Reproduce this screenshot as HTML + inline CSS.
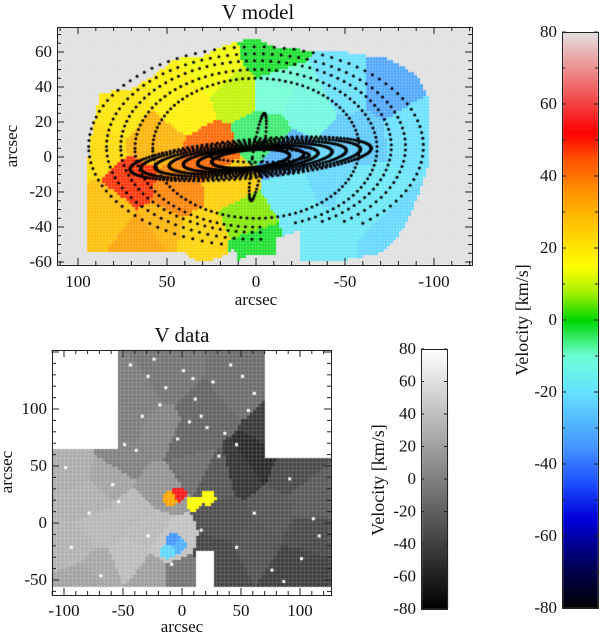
<!DOCTYPE html>
<html><head><meta charset="utf-8"><style>
html,body{margin:0;padding:0;background:#fff;}
#wrap{position:relative;width:600px;height:633px;overflow:hidden;}
canvas,svg{position:absolute;left:0;top:0;}
text{font-family:"Liberation Serif",serif;fill:#111;}
</style></head><body>
<div id="wrap">
<canvas id="cv" width="600" height="633"></canvas>
<svg id="sv" width="600" height="633"></svg>
</div>
<script>
// ---- data ----
const topSeedX=[88,82,70,62,58,45,42,30,25,20,10,5,-5,0,-10,-15,-30,-40,-30,-50,-60,-75,-90,-55,-20,75,55,15,-5,-85];
const topSeedY=[5,-30,-15,-45,10,-20,30,-45,0,50,40,-35,55,-50,40,0,30,-10,-45,40,-20,40,15,10,-20,25,-40,-15,10,-45];
const topSeedV=[22,28,48,33,30,38,18,24,42,14,10,6,-2,-2,-10,-30,-12,-22,-18,-20,-18,-32,-20,-25,-18,20,30,25,-5,-22];
const topMaskX=[88,80,72,60,45,30,20,10,0,-10,-20,-35,-50,-62,-75,-82,-92,-98,-98,-92,-86,-80,-70,-45,-25,-25,-12,-12,5,10,12,20,32,40,55,75,95,95,93];
const topMaskY=[36,38,38,45,56,58,63,66,68,63,62,60,60,58,56,52,45,30,0,-20,-35,-45,-55,-60,-60,-42,-46,-56,-56,-60,-52,-58,-60,-55,-55,-55,-55,-8,10];
const ringA=[58,68,76,84,94];
const ringB=[40,45,49,53,57];
const ringCy=[5,5,6,6,6];
const barA=[22,30,38,46,54,62,68];
const barB=[5,6,7,8,9,10,11];
const botSeedX=[-95,-80,-60,-40,-20,-90,-70,-45,-25,-10,-30,-50,-80,10,30,50,65,90,110,-40,-10,20,45,80,110,0,30,60,-20,5,40,75,100,-45,-70];
const botSeedY=[50,20,40,10,30,-20,-40,-30,-45,-20,-5,55,-50,50,40,45,55,45,20,110,130,100,120,80,-10,-45,-30,-15,80,70,0,10,-40,90,-5];
const botSeedV=[28,30,22,35,12,32,25,38,20,42,36,0,22,-12,-28,-48,-55,-35,-25,-3,-8,-18,-12,-45,-35,-8,-38,-30,2,-18,-32,-28,-42,-2,35];
const colSeedX=[-10,-3,10,22,-12,-3,-8];
const colSeedY=[22,25,17,22,-25,-20,-15];
const colSeedV=[32,55,15,15,-22,-30,-35];
const dotX=[-45,-30,-15,0,10,25,40,55,-35,-20,5,20,35,60,-50,-5,15,45,-25,30,-40,8,50,-100,-60,-80,-30,90,110,100,75,-95,-70,15,45,60,-10,85,115,-55];
const dotY=[140,130,120,135,110,125,140,100,95,105,90,85,80,115,70,75,95,70,145,60,65,128,130,50,35,10,-10,40,5,-30,-40,-20,-45,-5,-20,10,-35,-50,-10,20];
const cbTicks=[-80,-60,-40,-20,0,20,40,60,80];

// ---- scales ----
const TX=x=>57+(111.8-x)*1.78, TY=y=>157-y*1.75;
const BX=x=>182+x*1.18, BY=y=>523-y*1.14;
const stops=[[-80,[0,0,0]],[-68,[0,0,90]],[-55,[0,0,220]],[-45,[30,80,255]],[-35,[70,150,255]],[-20,[100,225,255]],[-10,[110,255,215]],[0,[0,215,0]],[8,[170,240,0]],[15,[255,255,0]],[25,[255,205,0]],[35,[255,150,0]],[45,[255,80,0]],[52,[255,0,0]],[62,[240,80,80]],[72,[235,160,160]],[80,[225,225,225]]];
function rainbow(v){v=Math.max(-80,Math.min(80,v));for(let i=1;i<stops.length;i++){if(v<=stops[i][0]){const a=stops[i-1],b=stops[i],t=(v-a[0])/(b[0]-a[0]);return `rgb(${a[1].map((c,k)=>Math.round(c+(b[1][k]-c)*t)).join(',')})`;}}return 'rgb(225,225,225)';}
function gray(v){const g=Math.round((Math.max(-80,Math.min(80,v))+80)/160*255);return `rgb(${g},${g},${g})`;}
function inPoly(x,y,px,py){let c=false;for(let i=0,j=px.length-1;i<px.length;j=i++){if(((py[i]>y)!=(py[j]>y))&&(x<(px[j]-px[i])*(y-py[i])/(py[j]-py[i])+px[i]))c=!c;}return c;}
function nearest(x,y,sx,sy){let b=0,bd=1e9;for(let i=0;i<sx.length;i++){const d=(x-sx[i])**2+(y-sy[i])**2;if(d<bd){bd=d;b=i;}}return [b,bd];}

const ctx=document.getElementById('cv').getContext('2d');
// top map
ctx.fillStyle='#e0e0e0';ctx.fillRect(57,27,415,238);
for(let px=57;px<472;px+=3)for(let py=27;py<265;py+=3){
  const x=111.8-(px+1.5-57)/1.78,y=(157-(py+1.5))/1.75;
  if(!inPoly(x,y,topMaskX,topMaskY))continue;
  const [i]=nearest(x,y,topSeedX,topSeedY);ctx.fillStyle=rainbow(topSeedV[i]);ctx.fillRect(px,py,3,3);}
ctx.strokeStyle='rgba(255,255,255,0.18)';ctx.lineWidth=1;
for(let px=57;px<472;px+=3){ctx.beginPath();ctx.moveTo(px+.5,27);ctx.lineTo(px+.5,265);ctx.stroke();}
for(let py=27;py<265;py+=3){ctx.beginPath();ctx.moveTo(57,py+.5);ctx.lineTo(472,py+.5);ctx.stroke();}
// dots / ellipses
ctx.fillStyle='#000';
function dot(x,y,r){ctx.beginPath();ctx.arc(x,y,r||1.5,0,7);ctx.fill();}
ringA.forEach((a,k)=>{for(let t=0;t<6.283;t+=0.06){const x=a*Math.cos(t),y=ringCy[k]+ringB[k]*Math.sin(t);if(y<-50||Math.abs(x)>96)continue;if(y<-38&&x<-5)continue;dot(TX(x),TY(y));}});
const ang=-0.09;
barA.forEach((a,k)=>{for(let t=0;t<6.283;t+=0.045){const ex=a*Math.cos(t),ey=barB[k]*Math.sin(t);const x=ex*Math.cos(ang)-ey*Math.sin(ang)+3,y=ex*Math.sin(ang)+ey*Math.cos(ang)-1;dot(TX(x),TY(y),1.6);}});
for(let t=0;t<6.283;t+=0.12){dot(TX(-1+3*Math.cos(t)+ -0.15*25*Math.sin(t)),TY(25*Math.sin(t)));}
for(let t=0;t<6.283;t+=0.12){dot(TX(-2+28*Math.cos(t)),TY(1+4*Math.sin(t)));}

// bottom map
const bmask=(x,y)=>{if(y>65)return x>-55&&x<70; if(y>58)return x>-110&&x<70; if(y<-57)return false; if(y<-55&&x<-55)return false; if(x>13&&x<27&&y<-25)return false; return true;};
for(let px=52;px<331;px+=3)for(let py=350;py<595;py+=3){
  const x=(px+1.5-182)/1.18,y=(523-(py+1.5))/1.14;
  if(!bmask(x,y))continue;
  const [c,cd]=nearest(x,y,colSeedX,colSeedY);
  if(cd<42){ctx.fillStyle=rainbow(colSeedV[c]);}else{const [i]=nearest(x,y,botSeedX,botSeedY);ctx.fillStyle=gray(botSeedV[i]);}
  ctx.fillRect(px,py,3,3);}
ctx.strokeStyle='rgba(255,255,255,0.15)';
for(let px=52;px<331;px+=4){ctx.beginPath();ctx.moveTo(px+.5,350);ctx.lineTo(px+.5,595);ctx.stroke();}
for(let py=350;py<595;py+=4){ctx.beginPath();ctx.moveTo(52,py+.5);ctx.lineTo(331,py+.5);ctx.stroke();}
ctx.fillStyle='#fff';
dotX.forEach((x,i)=>{const y=dotY[i];if(bmask(x,y))ctx.fillRect(BX(x),BY(y),3,3);});
// colorbars
for(let py=32;py<608;py++){const v=80-(py-32)/576*160;ctx.fillStyle=rainbow(v);ctx.fillRect(563,py,35,1);}
for(let py=349;py<609;py++){const v=80-(py-349)/260*160;ctx.fillStyle=gray(v);ctx.fillRect(422,py,26,1);}

// ---- SVG axes ----
const sv=document.getElementById('sv');const NS='http://www.w3.org/2000/svg';
function el(tag,attrs,txt){const e=document.createElementNS(NS,tag);for(const k in attrs)e.setAttribute(k,attrs[k]);if(txt!==undefined)e.textContent=txt;sv.appendChild(e);return e;}
function line(x1,y1,x2,y2){const e=el('line',{x1,y1,x2,y2,stroke:'#222','stroke-width':1});}
function txt(x,y,s,name,extra){const e=el('text',Object.assign({x,y,'font-size':17,'text-anchor':'middle'},extra||{}),s);return e;}
function frame(x,y,w,h,name){const e=el('rect',{x:x+.5,y:y+.5,width:w,height:h,fill:'none',stroke:'#222'});}
// top
frame(57,27,415,238,'top-plot-frame');
for(let v=-120;v<=110;v+=10){const p=TX(v);if(p<57||p>472)continue;const L=v%50==0?7:4;line(p,265,p,265-L);line(p,27,p,27+L);if(v%50==0&&Math.abs(v)<=100)txt(p,287,String(v),'top-x-tick-label');}
for(let v=-60;v<=70;v+=5){const p=TY(v);const L=v%20==0?7:4;line(57,p,57+L,p);line(472,p,472-L,p);if(v%20==0)txt(52,p+5,String(v),'top-y-tick-label',{'text-anchor':'end'});}
txt(256,305,'arcsec','top-x-axis-title');
txt(17,146,'arcsec','top-y-axis-title',{transform:'rotate(-90 17 146)'});
txt(258,19,'V model','top-title',{'font-size':21});
// bottom
frame(52,350,279,245,'bottom-plot-frame');
for(let v=-110;v<=120;v+=10){const p=BX(v);const L=v%50==0?7:4;line(p,595,p,595-L);line(p,350,p,350+L);if(v%50==0)txt(p,616,String(v),'bottom-x-tick-label');}
for(let v=-60;v<=150;v+=10){const p=BY(v);const L=v%50==0?7:4;line(52,p,52+L,p);line(331,p,331-L,p);if(v%50==0&&v<150)txt(47,p+5,String(v),'bottom-y-tick-label',{'text-anchor':'end'});}
txt(182,632,'arcsec','bottom-x-axis-title');
txt(12,472,'arcsec','bottom-y-axis-title',{transform:'rotate(-90 12 472)'});
txt(182,342,'V data','bottom-title',{'font-size':21});
// colorbars
frame(562,32,36,576,'color-colorbar');
cbTicks.forEach(v=>{const p=32+(80-v)/160*576;line(562,p,566,p);line(598,p,594,p);txt(557,p+5,String(v),'colorbar-tick-label',{'text-anchor':'end'});});
for(let v=-70;v<=70;v+=20){const p=32+(80-v)/160*576;line(562,p,565,p);line(598,p,595,p);}
txt(528,320,'Velocity [km/s]','colorbar-title',{transform:'rotate(-90 528 320)','font-size':18});
frame(421,349,26,260,'gray-colorbar');
cbTicks.forEach(v=>{const p=349+(80-v)/160*260;line(421,p,424,p);line(447,p,444,p);txt(416,p+5,String(v),'gray-colorbar-tick-label',{'text-anchor':'end'});});
txt(384,480,'Velocity [km/s]','gray-colorbar-title',{transform:'rotate(-90 384 480)','font-size':18});
</script>
</body></html>
